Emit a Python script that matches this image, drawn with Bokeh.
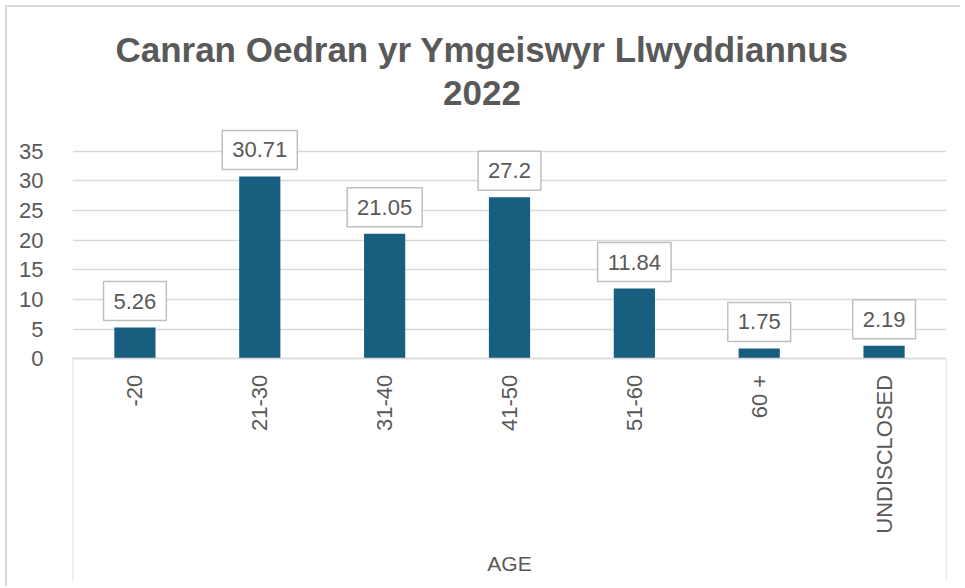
import math
from bokeh.plotting import figure
from bokeh.models import ColumnDataSource, Range1d, FactorRange, Label, FixedTicker
from bokeh.embed import file_html
from bokeh.resources import INLINE

categories = ["-20", "21-30", "31-40", "41-50", "51-60", "60 +", "UNDISCLOSED"]
percentages = [5.26, 30.71, 21.05, 27.2, 11.84, 1.75, 2.19]
y_ticks = [0, 5, 10, 15, 20, 25, 30, 35]
title_lines = ["Canran Oedran yr Ymgeiswyr Llwyddiannus", "2022"]
axis_title = "AGE"

BAR = "#175e7f"
GRID = "#d9d9d9"
TXT = "#595959"
FONT = "Liberation Sans"

src = ColumnDataSource(dict(cat=categories, val=percentages))

p = figure(x_range=FactorRange(factors=categories), y_range=Range1d(-38.35, 60.35),
           width=960, height=586, output_backend="svg", toolbar_location=None,
           min_border_left=72, min_border_right=14, min_border_top=0,
           min_border_bottom=0)
p.outline_line_color = None
p.background_fill_color = None
p.border_fill_color = None
# light chart-area border (left and top edges)
p.styles = {
    "background": ("linear-gradient(#d9d9d9, #d9d9d9) 5px 5px / 2px 100% no-repeat, "
                   "linear-gradient(#d9d9d9, #d9d9d9) 5px 5px / 100% 2px no-repeat, white"),
}

p.vbar(x="cat", top="val", width=0.33, source=src, fill_color=BAR, line_color=None)

# category-axis box side lines (edges of the category band)
n = len(categories)
p.segment(x0=[0, n], y0=[0, 0], x1=[0, n], y1=[-37.34, -37.34],
          line_color=GRID, line_width=1.5)

# data labels (boxed)
for i, v in enumerate(percentages):
    p.add_layout(Label(x=i + 0.5, y=v, text=f"{v:g}", y_offset=7,
                       text_align="center", text_baseline="bottom",
                       text_font=FONT, text_font_size="22px", text_color="#595959",
                       background_fill_color="white", border_line_color="#bfbfbf",
                       border_line_width=1.5, padding=(10, 12)))

# axes
p.yaxis.ticker = FixedTicker(ticks=y_ticks)
p.yaxis.axis_line_color = None
p.yaxis.major_tick_line_color = None
p.yaxis.minor_tick_line_color = None
p.yaxis.major_label_text_font = FONT
p.yaxis.major_label_text_font_size = "22px"
p.yaxis.major_label_text_color = TXT
p.yaxis.major_label_standoff = 23

p.xaxis.fixed_location = 0
p.xaxis.axis_line_color = GRID
p.xaxis.axis_line_width = 1.5
p.xaxis.major_tick_line_color = None
p.xaxis.minor_tick_line_color = None
p.xaxis.major_label_orientation = math.pi / 2
p.xaxis.major_label_text_font = FONT
p.xaxis.major_label_text_font_size = "22px"
p.xaxis.major_label_text_color = TXT
p.xaxis.major_label_standoff = 10
p.xaxis.axis_label = axis_title
p.xaxis.axis_label_text_font = FONT
p.xaxis.axis_label_text_font_style = "normal"
p.xaxis.axis_label_text_font_size = "21px"
p.xaxis.axis_label_text_color = TXT
p.xaxis.axis_label_standoff = 16

p.xgrid.grid_line_color = None
p.ygrid.grid_line_color = GRID
p.ygrid.grid_line_width = 1.5

# title
for txt, yy in zip(title_lines, (52.1, 44.7)):
    p.add_layout(Label(x=3.28, y=yy, text=txt, text_align="center", text_baseline="alphabetic",
                       text_font=FONT, text_font_style="bold", text_font_size="35px",
                       text_color=TXT))

open("out.html", "w").write(file_html(p, INLINE))
